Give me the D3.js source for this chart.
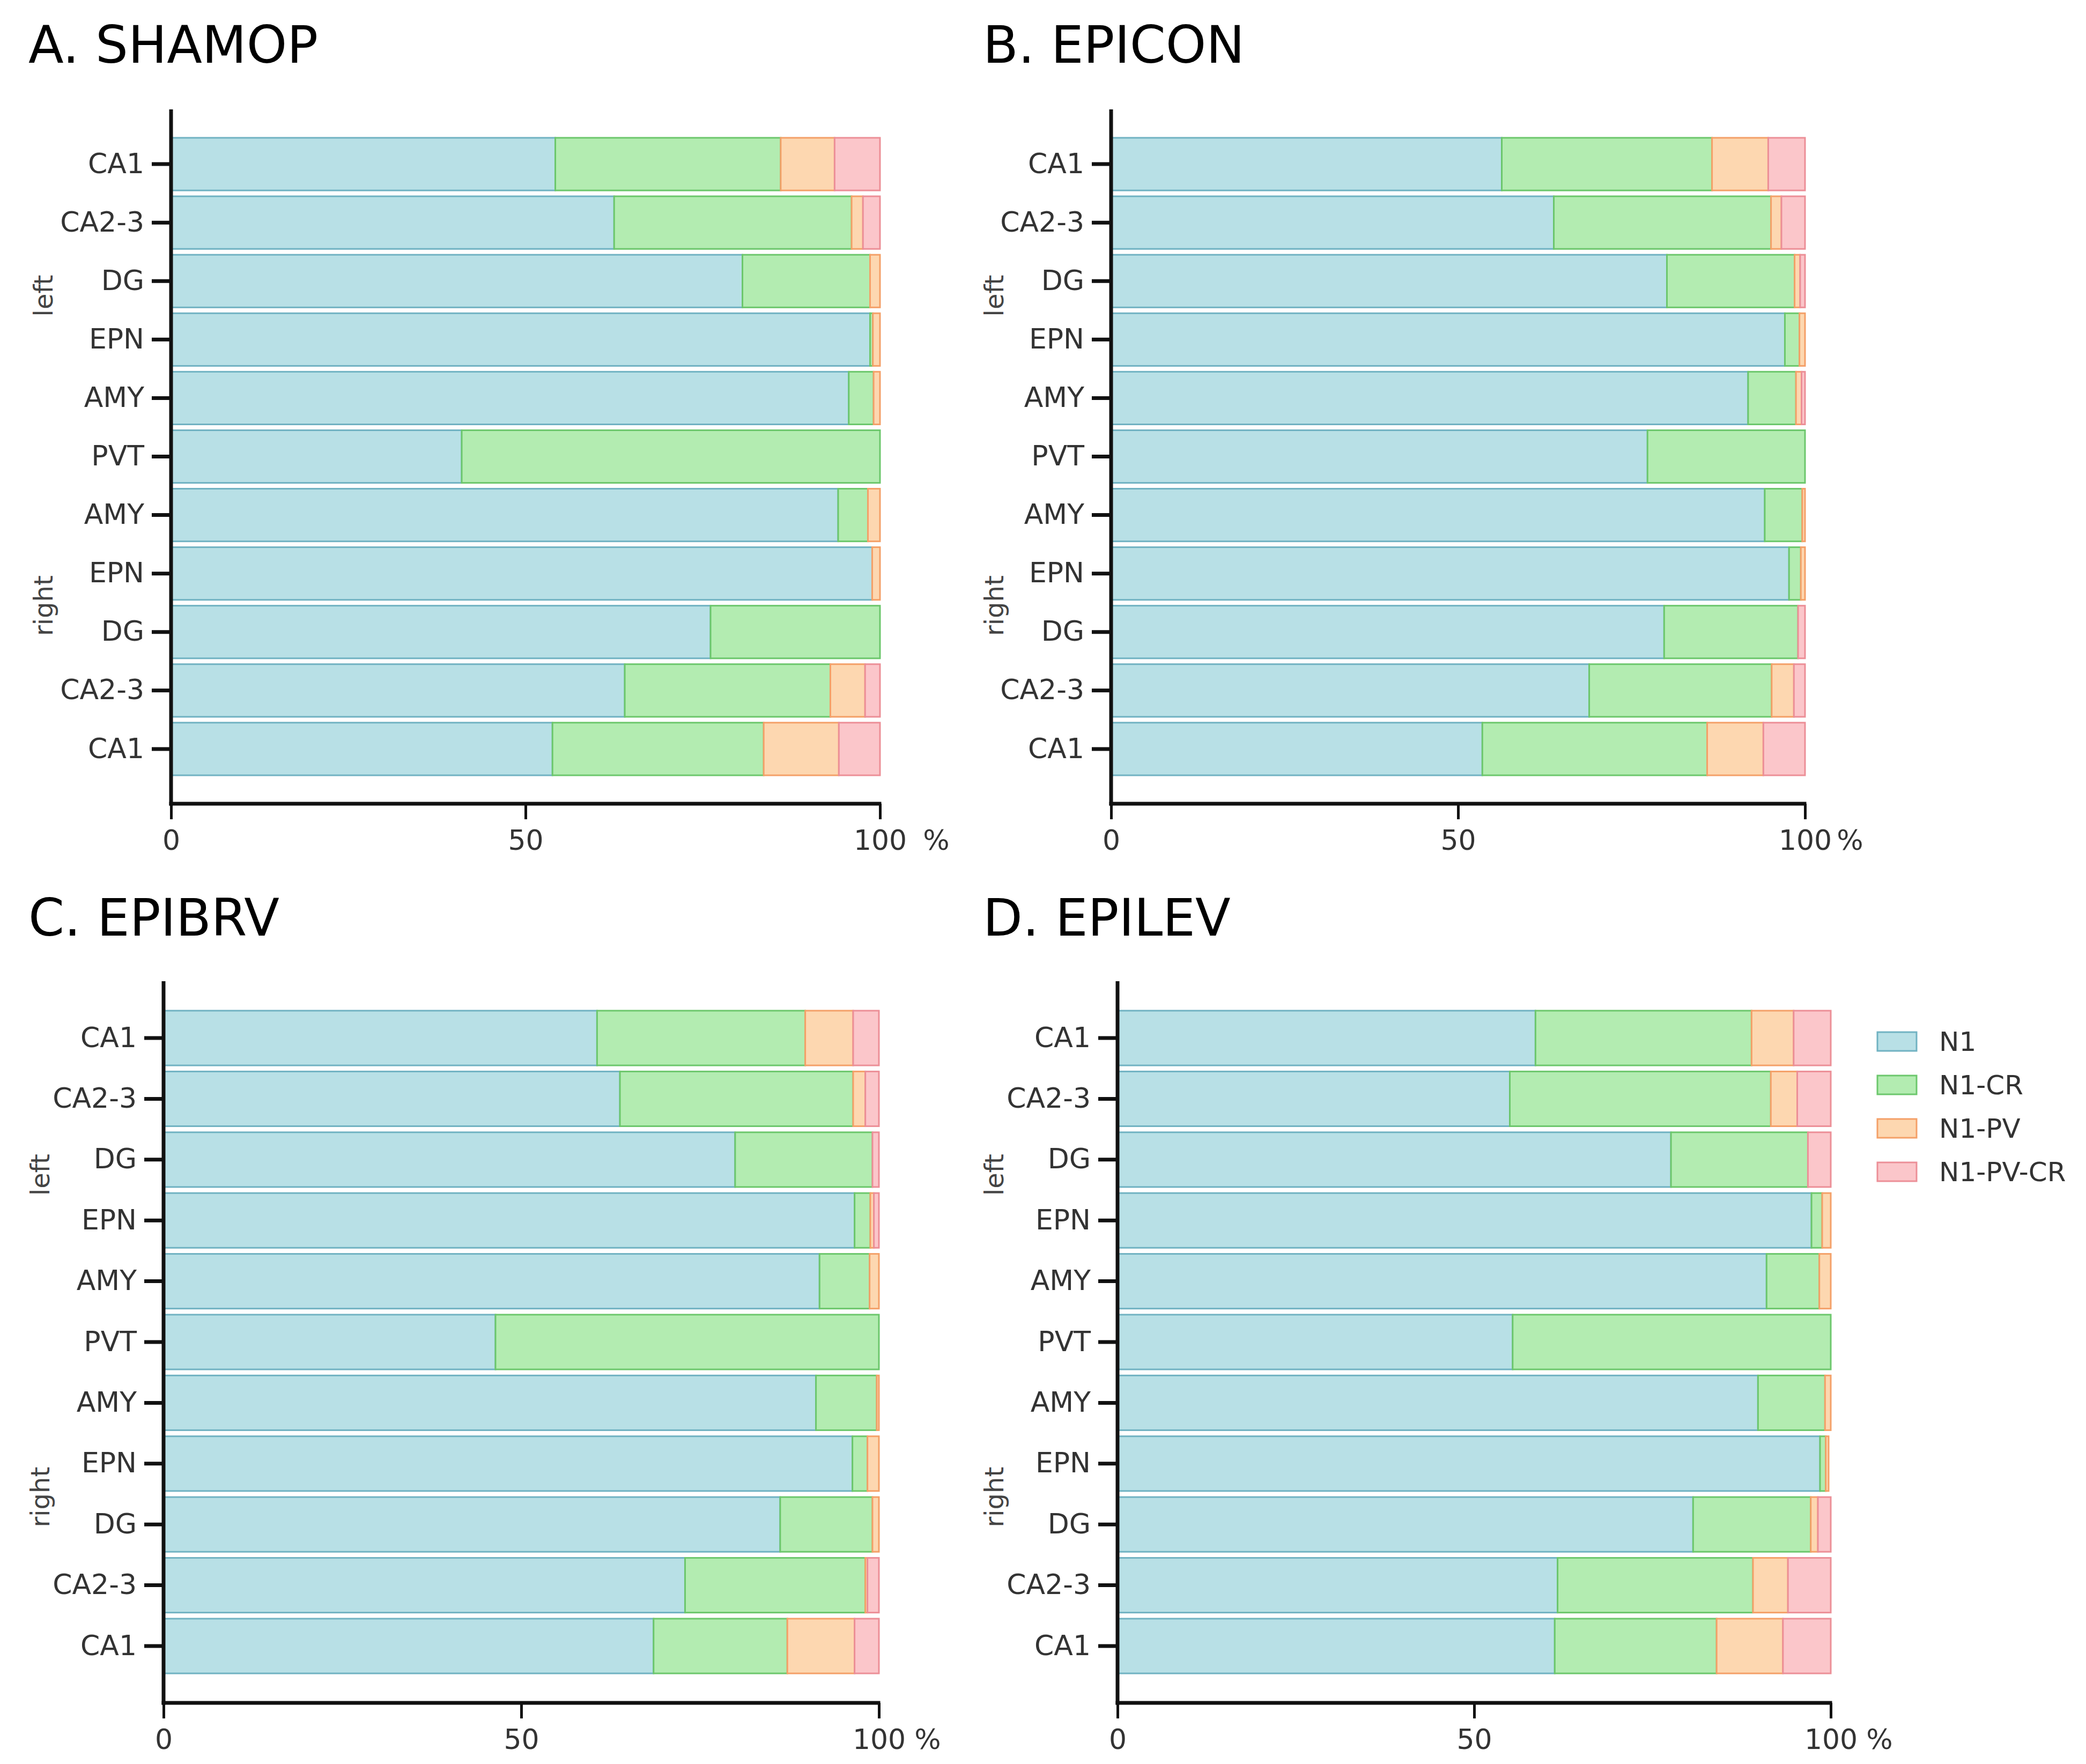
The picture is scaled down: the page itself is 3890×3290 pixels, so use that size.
<!DOCTYPE html>
<html>
<head>
<meta charset="utf-8">
<script src="https://cdn.jsdelivr.net/npm/d3@7"></script>
<style>
  body { margin: 0; background: #fff; }
  svg { display: block; font-family: "DejaVu Sans", Verdana, sans-serif; }
</style>
</head>
<body>
<div id="chart"></div>
<script>
// regions, top to bottom (left hemisphere, PVT, right hemisphere)
const categories = ["CA1", "CA2-3", "DG", "EPN", "AMY", "PVT", "AMY", "EPN", "DG", "CA2-3", "CA1"];
const sideLabels = ["left", "right"];
const xTicks = [0, 50, 100];
const seriesNames = ["N1", "N1-CR", "N1-PV", "N1-PV-CR"];
const panelTitles = ["A. SHAMOP", "B. EPICON", "C. EPIBRV", "D. EPILEV"];

// percentages per region
const shamopN1   = [54.2, 62.5, 80.6, 98.6, 95.6, 41.0, 94.1, 98.9, 76.1, 64.0, 53.8];
const shamopCR   = [31.8, 33.5, 18.0, 0.4, 3.5, 59.0, 4.2, 0.0, 23.9, 29.0, 29.8];
const shamopPV   = [7.6, 1.6, 1.4, 1.0, 0.9, 0.0, 1.7, 1.1, 0.0, 4.9, 10.6];
const shamopPVCR = [6.4, 2.4, 0.0, 0.0, 0.0, 0.0, 0.0, 0.0, 0.0, 2.1, 5.8];

const epiconN1   = [56.3, 63.8, 80.1, 97.1, 91.8, 77.3, 94.2, 97.7, 79.7, 68.9, 53.5];
const epiconCR   = [30.3, 31.3, 18.4, 2.1, 6.9, 22.7, 5.4, 1.7, 19.3, 26.3, 32.4];
const epiconPV   = [8.1, 1.5, 0.8, 0.8, 0.8, 0.0, 0.4, 0.6, 0.0, 3.2, 8.1];
const epiconPVCR = [5.3, 3.4, 0.7, 0.0, 0.5, 0.0, 0.0, 0.0, 1.0, 1.6, 6.0];

const epibrvN1   = [60.6, 63.8, 79.9, 96.6, 91.7, 46.4, 91.2, 96.3, 86.2, 72.9, 68.5];
const epibrvCR   = [29.1, 32.6, 19.2, 2.2, 7.0, 53.6, 8.5, 2.1, 12.9, 25.2, 18.7];
const epibrvPV   = [6.7, 1.7, 0.0, 0.5, 1.3, 0.0, 0.3, 1.6, 0.9, 0.3, 9.4];
const epibrvPVCR = [3.6, 1.9, 0.9, 0.7, 0.0, 0.0, 0.0, 0.0, 0.0, 1.6, 3.4];

const epilevN1   = [58.6, 55.0, 77.6, 97.3, 91.0, 55.4, 89.8, 98.5, 80.7, 61.7, 61.3];
const epilevCR   = [30.3, 36.6, 19.2, 1.5, 7.4, 44.6, 9.4, 0.8, 16.5, 27.4, 22.7];
const epilevPV   = [5.9, 3.7, 0.0, 1.2, 1.6, 0.0, 0.8, 0.4, 1.0, 4.9, 9.3];
const epilevPVCR = [5.2, 4.7, 3.2, 0.0, 0.0, 0.0, 0.0, 0.0, 1.8, 6.0, 6.7];

const panelSeries = [
    [shamopN1, shamopCR, shamopPV, shamopPVCR],
    [epiconN1, epiconCR, epiconPV, epiconPVCR],
    [epibrvN1, epibrvCR, epibrvPV, epibrvPVCR],
    [epilevN1, epilevCR, epilevPV, epilevPVCR]
];

const fills   = ["#b8e0e6", "#b3ecb1", "#fdd7b0", "#fbc6ca"];
const strokes = ["#70b2c2", "#6cc76c", "#f4a068", "#ec8f97"];

// layout of the four panels
const layouts = [
    { x0: 319,  x1: 1641, axisTop: 204,  barTop: 257,  barBottom: 1446, axisY: 1499, titleX: 53,   titleY: 117,  sideX: 81,   pctX: 1746 },
    { x0: 2072, x1: 3366, axisTop: 204,  barTop: 257,  barBottom: 1446, axisY: 1499, titleX: 1833, titleY: 117,  sideX: 1854, pctX: 3450 },
    { x0: 305,  x1: 1639, axisTop: 1830, barTop: 1885, barBottom: 3121, axisY: 3176, titleX: 53,   titleY: 1745, sideX: 75,   pctX: 1730 },
    { x0: 2084, x1: 3414, axisTop: 1830, barTop: 1885, barBottom: 3121, axisY: 3176, titleX: 1833, titleY: 1745, sideX: 1854, pctX: 3505 }
];

const width = 3890;
const height = 3290;

const svg = d3.select("#chart").append("svg")
    .attr("width", width)
    .attr("height", height)
    .attr("viewBox", `0 0 ${width} ${height}`);

const stack = d3.stack().keys(seriesNames);

function drawPanel(p) {
    const L = layouts[p];
    const series = panelSeries[p];
    const rows = categories.map((c, i) => {
        const row = { idx: i };
        seriesNames.forEach((k, j) => { row[k] = series[j][i]; });
        return row;
    });
    const stacked = stack(rows);

    const x = d3.scaleLinear().domain([0, 100]).range([L.x0, L.x1]);
    const y = d3.scaleBand()
        .domain(d3.range(categories.length))
        .range([L.barTop, L.barBottom])
        .paddingInner(0.1)
        .paddingOuter(0);

    const g = svg.append("g");

    // stacked bars
    g.selectAll(".layer")
        .data(stacked)
        .enter()
        .append("g")
        .attr("fill", (d, i) => fills[i])
        .attr("stroke", (d, i) => strokes[i])
        .selectAll("rect")
        .data(d => d.filter(s => s[1] - s[0] > 0.05))
        .enter()
        .append("rect")
        .attr("x", d => x(d[0]))
        .attr("y", d => y(d.data.idx))
        .attr("width", d => x(d[1]) - x(d[0]))
        .attr("height", y.bandwidth())
        .attr("stroke-width", 3);

    // y axis
    const yAxis = d3.axisLeft(y)
        .tickSize(36)
        .tickPadding(14)
        .tickFormat(i => categories[i]);
    const yg = g.append("g")
        .attr("transform", `translate(${L.x0},0)`)
        .call(yAxis);
    yg.select(".domain").remove();
    yg.selectAll(".tick line").attr("stroke", "#111").attr("stroke-width", 7);
    yg.selectAll(".tick text")
        .attr("font-size", 52)
        .attr("fill", "#333")
        .attr("font-family", "DejaVu Sans, sans-serif");

    // x axis
    const xAxis = d3.axisBottom(x)
        .tickValues(xTicks)
        .tickSize(29)
        .tickPadding(20)
        .tickSizeOuter(0);
    const xg = g.append("g")
        .attr("transform", `translate(0,${L.axisY})`)
        .call(xAxis);
    xg.select(".domain").remove();
    xg.selectAll(".tick line").attr("stroke", "#111").attr("stroke-width", 5);
    xg.selectAll(".tick text")
        .attr("font-size", 52)
        .attr("fill", "#333")
        .attr("font-family", "DejaVu Sans, sans-serif");

    // axis lines
    g.append("line")
        .attr("x1", L.x0).attr("x2", L.x0)
        .attr("y1", L.axisTop).attr("y2", L.axisY + 3.5)
        .attr("stroke", "#111").attr("stroke-width", 7);
    g.append("line")
        .attr("x1", L.x0 - 3.5).attr("x2", x(100) + 2.5)
        .attr("y1", L.axisY).attr("y2", L.axisY)
        .attr("stroke", "#111").attr("stroke-width", 7);

    g.append("text")
        .attr("x", L.pctX)
        .attr("y", L.axisY + 29 + 20)
        .attr("dy", "0.71em")
        .attr("text-anchor", "middle")
        .attr("font-size", 52)
        .attr("fill", "#333")
        .text("%");

    // hemisphere labels
    const sideRows = [2.25, 7.55];
    sideLabels.forEach((s, i) => {
        const cy = L.barTop + sideRows[i] * y.step() + y.bandwidth() / 2;
        g.append("text")
            .attr("transform", `translate(${L.sideX},${cy}) rotate(-90)`)
            .attr("text-anchor", "middle")
            .attr("dy", "0.35em")
            .attr("font-size", 48)
            .attr("fill", "#444")
            .text(s);
    });

    // panel title
    g.append("text")
        .attr("x", L.titleX)
        .attr("y", L.titleY)
        .attr("font-size", 96)
        .attr("fill", "#000")
        .text(panelTitles[p]);
}

panelTitles.forEach((t, p) => drawPanel(p));

// legend
const legend = svg.append("g").attr("transform", "translate(3501,1942)");
seriesNames.forEach((name, i) => {
    const row = legend.append("g").attr("transform", `translate(0,${i * 81})`);
    row.append("rect")
        .attr("x", 0).attr("y", -17)
        .attr("width", 73).attr("height", 35)
        .attr("fill", fills[i])
        .attr("stroke", strokes[i])
        .attr("stroke-width", 3);
    row.append("text")
        .attr("x", 115)
        .attr("y", 0)
        .attr("dy", "0.36em")
        .attr("font-size", 50)
        .attr("fill", "#333")
        .text(name);
});
</script>
</body>
</html>
